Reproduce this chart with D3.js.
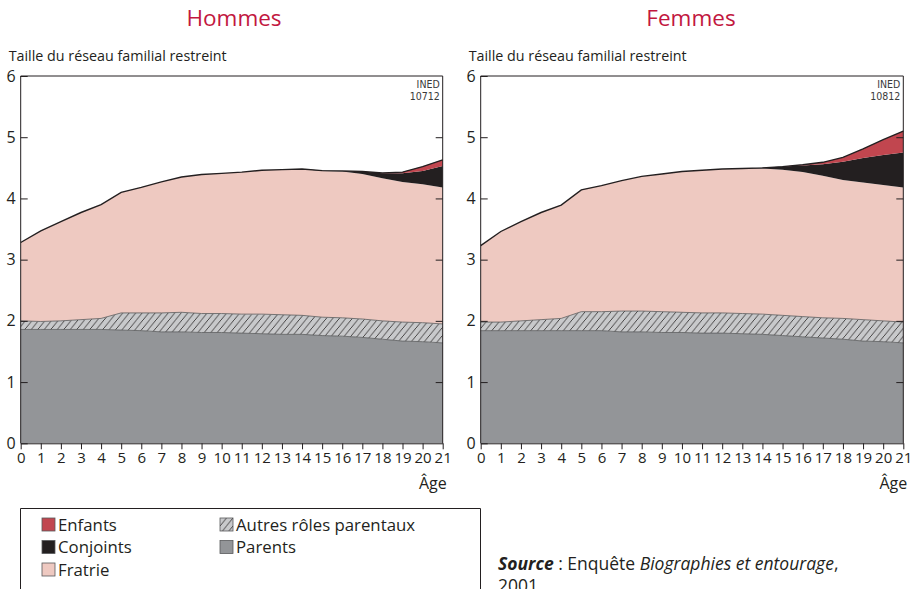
<!DOCTYPE html>
<html>
<head>
<meta charset="utf-8">
<script src="https://cdn.jsdelivr.net/npm/d3@7"></script>
<style>
  body { margin: 0; background: #fff; }
  svg { font-family: "Open Sans", "Noto Sans", sans-serif; }
</style>
</head>
<body>
<script>
// ages 0..21
const ages = d3.range(0, 22);
const keys = ['parents', 'autres', 'fratrie', 'conjoints', 'enfants'];
const labels = {
    enfants: 'Enfants', conjoints: 'Conjoints', fratrie: 'Fratrie',
    autres: 'Autres rôles parentaux', parents: 'Parents'
};
const yTicks = [0, 1, 2, 3, 4, 5, 6];

// Hommes
const hParents   = [1.86,1.86,1.86,1.86,1.86,1.85,1.84,1.82,1.82,1.81,1.81,1.80,1.79,1.78,1.78,1.76,1.75,1.73,1.70,1.67,1.66,1.64];
const hAutres    = [0.14,0.13,0.14,0.16,0.18,0.28,0.29,0.31,0.32,0.31,0.31,0.31,0.32,0.32,0.31,0.30,0.30,0.30,0.30,0.31,0.31,0.31];
const hFratrie   = [1.28,1.48,1.62,1.75,1.86,1.97,2.05,2.14,2.21,2.27,2.29,2.32,2.35,2.37,2.39,2.39,2.39,2.37,2.33,2.29,2.26,2.23];
const hConjoints = [0,0,0,0,0,0,0,0,0,0,0,0,0,0,0,0.005,0.01,0.04,0.08,0.14,0.22,0.35];
const hEnfants   = [0,0,0,0,0,0,0,0,0,0,0,0,0,0,0,0,0,0,0.005,0.02,0.07,0.10];

// Femmes
const fParents   = [1.84,1.84,1.84,1.84,1.84,1.84,1.84,1.82,1.82,1.81,1.81,1.80,1.80,1.79,1.78,1.76,1.74,1.72,1.70,1.67,1.66,1.64];
const fAutres    = [0.14,0.14,0.16,0.18,0.20,0.31,0.31,0.34,0.34,0.34,0.33,0.33,0.33,0.33,0.33,0.33,0.33,0.33,0.34,0.35,0.34,0.34];
const fFratrie   = [1.25,1.48,1.62,1.75,1.85,1.99,2.06,2.13,2.20,2.25,2.30,2.33,2.35,2.37,2.38,2.38,2.36,2.32,2.26,2.24,2.22,2.20];
const fConjoints = [0,0,0,0,0,0,0,0,0,0,0,0,0,0,0.01,0.05,0.11,0.19,0.30,0.40,0.49,0.57];
const fEnfants   = [0,0,0,0,0,0,0,0,0,0,0,0,0,0,0,0,0.01,0.03,0.07,0.15,0.25,0.35];

const colors = {
    parents: '#939598',
    autres: 'url(#hatch)',
    fratrie: '#eec9c1',
    conjoints: '#231f20',
    enfants: '#c1464f'
};
const titleColor = '#c2173f';

const W = 913, H = 589;
const svg = d3.select('body').append('svg')
    .attr('width', W).attr('height', H);

const defs = svg.append('defs');
const hatch = defs.append('pattern')
    .attr('id', 'hatch')
    .attr('patternUnits', 'userSpaceOnUse')
    .attr('width', 6.5).attr('height', 8);
hatch.append('rect').attr('width', 6.5).attr('height', 8).attr('fill', '#c8c9cb');
hatch.append('path')
    .attr('d', 'M-1,9.2 L7.5,-1.2')
    .attr('stroke', '#231f20').attr('stroke-width', 0.8);

const plotTop = 76, plotBottom = 443.3;
const y = d3.scaleLinear().domain([0, 6]).range([plotBottom, plotTop]);

function rows(p, a, f, c, e) {
    return ages.map((age, i) => ({
        age, parents: p[i], autres: a[i], fratrie: f[i], conjoints: c[i], enfants: e[i]
    }));
}

function drawPanel(x0, x1, title, titleX, code, data) {
    const x = d3.scaleLinear().domain([0, 21]).range([x0, x1]);
    const g = svg.append('g');

    const series = d3.stack().keys(keys)(data);
    const area = d3.area()
        .x(d => x(d.data.age))
        .y0(d => y(d[0]))
        .y1(d => y(d[1]));

    g.selectAll('path.layer')
        .data(series)
        .join('path')
        .attr('class', 'layer')
        .attr('fill', d => colors[d.key])
        .attr('d', area);

    const line = d3.line().x(d => x(d.data.age)).y(d => y(d[1]));
    // thin borders between the lower layers
    g.selectAll('path.edge')
        .data(series.slice(0, 2))
        .join('path')
        .attr('class', 'edge')
        .attr('fill', 'none')
        .attr('stroke', '#58595b')
        .attr('stroke-width', 0.8)
        .attr('d', line);
    // outline on top of the stack
    g.append('path')
        .attr('fill', 'none')
        .attr('stroke', '#231f20')
        .attr('stroke-width', 1.4)
        .attr('d', line(series[series.length - 1]));

    // frame
    g.append('path')
        .attr('fill', 'none')
        .attr('stroke', '#231f20')
        .attr('stroke-width', 1)
        .attr('d', `M${x0},${plotBottom}V${plotTop}H${x1}V${plotBottom}`);

    const xAxis = g.append('g')
        .attr('transform', `translate(0,${plotBottom})`)
        .call(d3.axisBottom(x).tickValues(ages).tickSize(6).tickSizeOuter(0).tickPadding(3));
    xAxis.selectAll('text').attr('font-size', 15).attr('fill', '#231f20')
        .attr('font-family', '"Open Sans", sans-serif');
    xAxis.selectAll('line, path').attr('stroke', '#231f20');

    const yAxis = g.append('g')
        .attr('transform', `translate(${x0},0)`)
        .call(d3.axisLeft(y).tickValues(yTicks).tickFormat(d3.format('d'))
            .tickSize(-7).tickSizeOuter(0).tickPadding(5));
    yAxis.select('.domain').remove();
    yAxis.selectAll('text').attr('font-size', 16).attr('fill', '#231f20')
        .attr('font-family', '"Open Sans", sans-serif');
    yAxis.selectAll('line').attr('stroke', '#231f20');

    const yAxisR = g.append('g')
        .attr('transform', `translate(${x1},0)`)
        .call(d3.axisRight(y).tickValues(yTicks.slice(1, 6)).tickSize(-7).tickSizeOuter(0).tickFormat(''));
    yAxisR.select('.domain').remove();
    yAxisR.selectAll('line').attr('stroke', '#231f20');

    g.append('text')
        .attr('x', x1 + 4).attr('y', 489)
        .attr('text-anchor', 'end')
        .attr('font-size', 16).attr('fill', '#231f20')
        .text('Âge');

    g.append('text')
        .attr('x', x0 - 12).attr('y', 61)
        .attr('font-size', 14.3).attr('fill', '#231f20')
        .text('Taille du réseau familial restreint');

    g.append('text')
        .attr('x', titleX).attr('y', 26)
        .attr('text-anchor', 'middle')
        .attr('font-size', 22.5).attr('fill', titleColor)
        .text(title);

    const ined = g.append('text')
        .attr('text-anchor', 'end')
        .attr('font-family', '"Liberation Sans Narrow", "DejaVu Sans Condensed", sans-serif')
        .attr('font-size', 10.5).attr('fill', '#3a3a3a');
    ined.append('tspan').attr('x', x1 - 3).attr('y', 88).text('INED');
    ined.append('tspan').attr('x', x1 - 3).attr('y', 100).text(code);
}

drawPanel(20.7, 442.7, 'Hommes', 234, '10712', rows(hParents, hAutres, hFratrie, hConjoints, hEnfants));
drawPanel(480.7, 903.3, 'Femmes', 691, '10812', rows(fParents, fAutres, fFratrie, fConjoints, fEnfants));

// legend
const legend = svg.append('g');
legend.append('path')
    .attr('fill', 'none')
    .attr('stroke', '#231f20')
    .attr('stroke-width', 1)
    .attr('d', `M20.5,${H + 2}V508.5H480.5V${H + 2}`);

const legendItems = [
    { key: 'enfants', col: 0, row: 0 },
    { key: 'conjoints', col: 0, row: 1 },
    { key: 'fratrie', col: 0, row: 2 },
    { key: 'autres', col: 1, row: 0 },
    { key: 'parents', col: 1, row: 1 }
];
const li = legend.selectAll('g.item')
    .data(legendItems)
    .join('g')
    .attr('class', 'item')
    .attr('transform', d => `translate(${d.col ? 220 : 42},${518 + d.row * 22.5})`);
li.append('rect')
    .attr('width', 13).attr('height', 13)
    .attr('fill', d => colors[d.key])
    .attr('stroke', '#58595b').attr('stroke-width', 0.8);
li.append('text')
    .attr('x', 16).attr('y', 12.5)
    .attr('font-size', 16.8).attr('fill', '#231f20')
    .text(d => labels[d.key]);

const source = svg.append('text')
    .attr('x', 498).attr('y', 570)
    .attr('font-size', 17.5).attr('fill', '#231f20');
source.append('tspan').attr('font-style', 'italic').attr('font-weight', 'bold').text('Source');
source.append('tspan').text(' : Enquête ');
source.append('tspan').attr('font-style', 'italic').text('Biographies et entourage');
source.append('tspan').text(',');
svg.append('text')
    .attr('x', 498).attr('y', 592)
    .attr('font-size', 17.5).attr('fill', '#231f20')
    .text('2001.');
</script>
</body>
</html>
